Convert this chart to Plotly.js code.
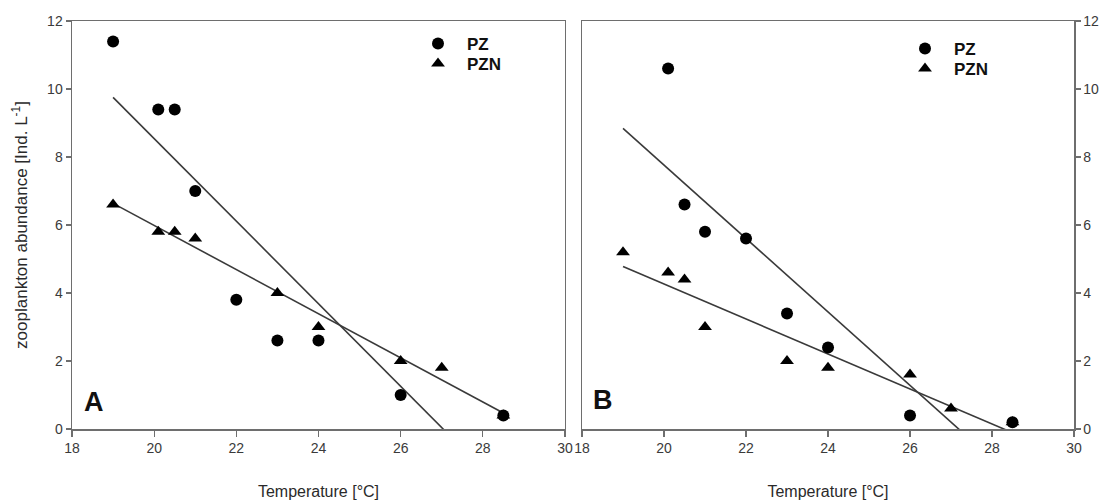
<!DOCTYPE html>
<html>
<head>
<meta charset="utf-8">
<script src="https://cdn.plot.ly/plotly-3.0.1.min.js"></script>
<style>
  html, body { margin: 0; padding: 0; background: #fff; }
  #chart { width: 1103px; height: 501px; }
</style>
</head>
<body>
<div id="chart"></div>
<script>
// ---- Data ----
const tempA_PZ   = [19, 20.1, 20.5, 21, 22, 23, 24, 26, 28.5];
const abundA_PZ  = [11.4, 9.4, 9.4, 7.0, 3.8, 2.6, 2.6, 1.0, 0.4];
const tempA_PZN  = [19, 20.1, 20.5, 21, 23, 24, 26, 27, 28.5];
const abundA_PZN = [6.6, 5.8, 5.8, 5.6, 4.0, 3.0, 2.0, 1.8, 0.4];

const tempB_PZ   = [20.1, 20.5, 21, 22, 23, 24, 26, 28.5];
const abundB_PZ  = [10.6, 6.6, 5.8, 5.6, 3.4, 2.4, 0.4, 0.2];
const tempB_PZN  = [19, 20.1, 20.5, 21, 23, 24, 26, 27, 28.5];
const abundB_PZN = [5.2, 4.6, 4.4, 3.0, 2.0, 1.8, 1.6, 0.6, 0.2];

const seriesNames = ['PZ', 'PZN'];
const panelLabels = ['A', 'B'];
const xTitle = 'Temperature [°C]';
const yTitle = 'zooplankton abundance [Ind. L<sup>-1</sup>]';

// ---- Linear regression (least squares) ----
function fit(x, y) {
  const n = x.length;
  const mx = x.reduce((a, b) => a + b, 0) / n;
  const my = y.reduce((a, b) => a + b, 0) / n;
  let sxy = 0, sxx = 0;
  for (let i = 0; i < n; i++) { sxy += (x[i] - mx) * (y[i] - my); sxx += (x[i] - mx) ** 2; }
  const b = sxy / sxx;
  return { b: b, a: my - b * mx };
}
function regLine(x, y, allX) {
  const f = fit(x, y);
  const lo = Math.min(...allX), hi = Math.max(...allX);
  return { x: [lo, hi], y: [f.a + f.b * lo, f.a + f.b * hi] };
}

const allA = tempA_PZ.concat(tempA_PZN);
const allB = tempB_PZ.concat(tempB_PZN);
const lA1 = regLine(tempA_PZ, abundA_PZ, allA);
const lA2 = regLine(tempA_PZN, abundA_PZN, allA);
const lB1 = regLine(tempB_PZ, abundB_PZ, allB);
const lB2 = regLine(tempB_PZN, abundB_PZN, allB);

const lineStyle = { color: '#3a3a3a', width: 1.6 };
const circ = { symbol: 'circle', size: 12, color: '#000' };
const tri  = { symbol: 'triangle-up', size: 12, color: '#000' };

const traces = [
  { x: lA1.x, y: lA1.y, mode: 'lines', line: lineStyle, showlegend: false, xaxis: 'x', yaxis: 'y', hoverinfo: 'skip' },
  { x: lA2.x, y: lA2.y, mode: 'lines', line: lineStyle, showlegend: false, xaxis: 'x', yaxis: 'y', hoverinfo: 'skip' },
  { x: lB1.x, y: lB1.y, mode: 'lines', line: lineStyle, showlegend: false, xaxis: 'x2', yaxis: 'y2', hoverinfo: 'skip' },
  { x: lB2.x, y: lB2.y, mode: 'lines', line: lineStyle, showlegend: false, xaxis: 'x2', yaxis: 'y2', hoverinfo: 'skip' },

  { x: tempA_PZN, y: abundA_PZN, name: seriesNames[1], mode: 'markers', marker: tri, xaxis: 'x', yaxis: 'y', legend: 'legend3' },
  { x: tempA_PZ, y: abundA_PZ, name: seriesNames[0], mode: 'markers', marker: circ, xaxis: 'x', yaxis: 'y', legend: 'legend' },
  { x: tempB_PZN, y: abundB_PZN, name: seriesNames[1], mode: 'markers', marker: tri, xaxis: 'x2', yaxis: 'y2', legend: 'legend4' },
  { x: tempB_PZ, y: abundB_PZ, name: seriesNames[0], mode: 'markers', marker: circ, xaxis: 'x2', yaxis: 'y2', legend: 'legend2' }
];

const axisCol = '#6e6e6e';
const tickFont = { family: 'Liberation Sans, Arial, sans-serif', size: 14, color: '#3a3a3a' };
const titleFont = { family: 'Liberation Sans, Arial, sans-serif', size: 16, color: '#2a2a2a' };

function xa(domain, anchor) {
  return {
    domain: domain, anchor: anchor, range: [18, 30], dtick: 2, tick0: 18,
    ticks: 'outside', ticklen: 6, tickwidth: 1.3, tickcolor: axisCol,
    showline: true, linecolor: axisCol, linewidth: 1.5, mirror: true,
    showgrid: false, zeroline: false, tickfont: tickFont,
    title: { text: xTitle, font: titleFont, standoff: 30 }
  };
}
function ya(anchor, side, withTitle) {
  const o = {
    anchor: anchor, side: side, range: [0, 12], dtick: 2, tick0: 0,
    ticks: 'outside', ticklen: 5, tickwidth: 1.3, tickcolor: axisCol,
    showline: true, linecolor: axisCol, linewidth: 1.5, mirror: true,
    showgrid: false, zeroline: false, tickfont: tickFont
  };
  if (withTitle) o.title = { text: yTitle, font: { family: titleFont.family, size: 17, color: '#2a2a2a' }, standoff: 15 };
  return o;
}

const W = 1103, H = 501, L = 72, R = 29, T = 21, B = 72;
const pw = W - L - R, ph = H - T - B;
const px = v => (v - L) / pw;
const py = v => (H - B - v) / ph;

const legendFont = { family: 'Liberation Sans, Arial, sans-serif', size: 17, color: '#111', weight: 'bold' };
function leg(left, top) {
  return { x: px(left), y: py(top), xanchor: 'left', yanchor: 'top', bgcolor: 'rgba(0,0,0,0)', font: legendFont, itemwidth: 48, tracegroupgap: 0 };
}

const layout = {
  width: W, height: H,
  margin: { l: L, r: R, t: T, b: B },
  paper_bgcolor: '#fff', plot_bgcolor: '#fff',
  font: { family: 'Liberation Sans, Arial, sans-serif' },
  xaxis: xa([0, 0.492], 'y'),
  yaxis: ya('x', 'left', true),
  xaxis2: xa([0.509, 1], 'y2'),
  yaxis2: ya('x2', 'right', false),
  legend: leg(409, 26),
  legend3: leg(409, 46),
  legend2: leg(896, 31),
  legend4: leg(896, 51),
  annotations: [
    { text: panelLabels[0], xref: 'x domain', yref: 'y domain', x: 0.02, y: 0.025, xanchor: 'left', yanchor: 'bottom', showarrow: false, font: { family: 'Liberation Sans, Arial, sans-serif', size: 27, color: '#111', weight: 'bold' } },
    { text: panelLabels[1], xref: 'x2 domain', yref: 'y2 domain', x: 0.018, y: 0.03, xanchor: 'left', yanchor: 'bottom', showarrow: false, font: { family: 'Liberation Sans, Arial, sans-serif', size: 27, color: '#111', weight: 'bold' } }
  ],
  showlegend: true
};

Plotly.newPlot('chart', traces, layout, { staticPlot: true, displayModeBar: false });
</script>
</body>
</html>
